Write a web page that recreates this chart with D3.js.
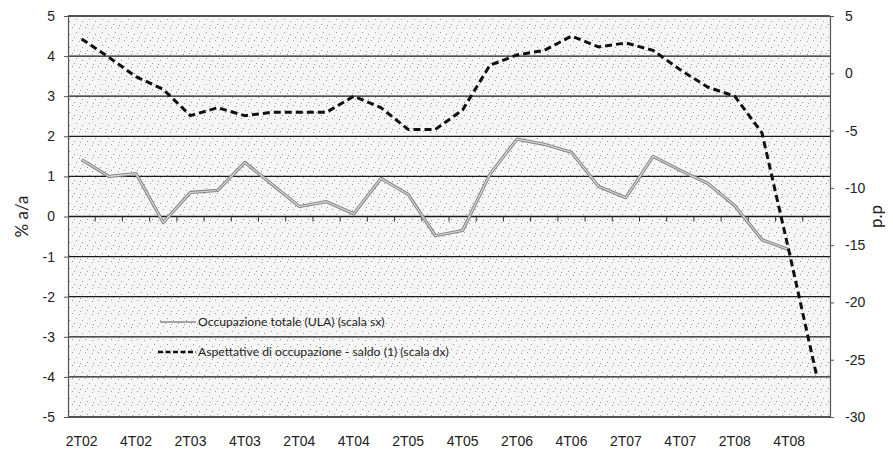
<!DOCTYPE html>
<html>
<head>
<meta charset="utf-8">
<script src="https://cdn.jsdelivr.net/npm/d3@7"></script>
<style>
  body { margin: 0; background: #fff; }
  svg { display: block; font-family: Lato, "Open Sans", sans-serif; }
  .tick text { fill: #222; }
</style>
</head>
<body>
<div id="chart"></div>
<script>
// quarters on the category axis
var quarters = ['2T02','3T02','4T02','1T03','2T03','3T03','4T03','1T04','2T04','3T04','4T04','1T05',
	'2T05','3T05','4T05','1T06','2T06','3T06','4T06','1T07','2T07','3T07','4T07','1T08',
	'2T08','3T08','4T08','1T09']

// only every second quarter gets a label
var quarterLabels = ['2T02','4T02','2T03','4T03','2T04','4T04','2T05','4T05','2T06','4T06','2T07','4T07','2T08','4T08']

// Occupazione totale (ULA), % a/a, left scale
var occupazione = [1.42, 1.0, 1.07, -0.15, 0.6, 0.65, 1.35, 0.8, 0.25, 0.37, 0.07, 0.95,
	0.55, -0.48, -0.35, 1.05, 1.93, 1.8, 1.6, 0.75, 0.47, 1.5, 1.15, 0.83,
	0.27, -0.58, -0.83]

// Aspettative di occupazione - saldo, p.p, right scale
var aspettative = [3.0, 1.4, -0.3, -1.4, -3.7, -3.0, -3.7, -3.4, -3.4, -3.4, -2.0, -3.0,
	-4.9, -4.9, -3.2, 0.7, 1.6, 2.0, 3.25, 2.3, 2.65, 2.0, 0.3, -1.2,
	-2.0, -5.2, -15.6, -26.3]

var leftTicks = [-5,-4,-3,-2,-1,0,1,2,3,4,5]
var rightTicks = [-30,-25,-20,-15,-10,-5,0,5]

var legendLabels = ['Occupazione totale  (ULA) (scala sx)', 'Aspettative di occupazione - saldo (1) (scala dx)']

var width = 893, height = 453
var margin = {'top':16, 'bottom':36, 'left':68, 'right':63}

// excel style numbers, plain hyphen for negatives
var plain = function(d) { return String(d) }

var svg = d3.select('#chart').append('svg')
	.attr('width', width)
	.attr('height', height)

var x = d3.scaleBand()
	.domain(quarters)
	.range([margin.left, width - margin.right])

var yL = d3.scaleLinear()
	.domain([-5, 5])
	.range([height - margin.bottom, margin.top])

var yR = d3.scaleLinear()
	.domain([-30, 5])
	.range([height - margin.bottom, margin.top])

var cx = function(q) { return x(q) + x.bandwidth()/2 }

// stippled plot background, like the scanned original
var defs = svg.append('defs')
var pat = defs.append('pattern')
	.attr('id','stipple')
	.attr('patternUnits','userSpaceOnUse')
	.attr('width', 13).attr('height', 13)
pat.append('rect').attr('width',13).attr('height',13).attr('fill','#f6f6f6')
var dots = [[1,2],[7,1],[11,6],[4,8],[9,11],[2,12]]
pat.selectAll('rect.d').data(dots).enter().append('rect')
	.attr('class','d')
	.attr('x', function(d){ return d[0] })
	.attr('y', function(d){ return d[1] })
	.attr('width',1).attr('height',1)
	.attr('fill','#9a9a9a')

svg.append('rect')
	.attr('x', margin.left)
	.attr('y', margin.top)
	.attr('width', width - margin.left - margin.right)
	.attr('height', height - margin.top - margin.bottom)
	.attr('fill','url(#stipple)')

// horizontal gridlines
svg.append('g').selectAll('line')
	.data(leftTicks)
	.enter().append('line')
	.attr('x1', margin.left)
	.attr('x2', width - margin.right)
	.attr('y1', function(d){ return yL(d) })
	.attr('y2', function(d){ return yL(d) })
	.attr('stroke','#1a1a1a')
	.attr('stroke-width',1.3)

// left axis
var leftAxis = svg.append('g')
	.attr('transform','translate(' + margin.left + ',0)')
	.call(d3.axisLeft(yL).tickValues(leftTicks).tickFormat(plain).tickSize(4).tickPadding(9))
leftAxis.select('.domain').attr('stroke','#555').attr('stroke-width',1.2)
leftAxis.selectAll('.tick line').attr('stroke','#555')
leftAxis.selectAll('text').style('font-size','14px')

// right axis
var rightAxis = svg.append('g')
	.attr('transform','translate(' + (width - margin.right) + ',0)')
	.call(d3.axisRight(yR).tickValues(rightTicks).tickFormat(plain).tickSize(4).tickPadding(11))
rightAxis.select('.domain').attr('stroke','#555').attr('stroke-width',1.2)
rightAxis.selectAll('.tick line').attr('stroke','#555')
rightAxis.selectAll('text').style('font-size','14px')

// category ticks on the zero line, between quarters
svg.append('g').selectAll('line')
	.data(quarters.slice(1))
	.enter().append('line')
	.attr('x1', function(d){ return x(d) })
	.attr('x2', function(d){ return x(d) })
	.attr('y1', yL(0))
	.attr('y2', yL(0) + 5)
	.attr('stroke','#333')
	.attr('stroke-width',1)

// category labels at the bottom
var bottomAxis = svg.append('g')
	.attr('transform','translate(0,' + (height - margin.bottom) + ')')
	.call(d3.axisBottom(x).tickValues(quarterLabels).tickSize(0).tickPadding(19))
bottomAxis.select('.domain').remove()
bottomAxis.selectAll('text').style('font-size','14px')

// axis titles
svg.append('text')
	.attr('transform','translate(28,' + yL(0) + ') rotate(-90)')
	.attr('text-anchor','middle')
	.style('font-size','17px')
	.attr('fill','#222')
	.text('% a/a')

svg.append('text')
	.attr('transform','translate(882,' + yL(0) + ') rotate(-90)')
	.attr('text-anchor','middle')
	.style('font-size','17px')
	.attr('fill','#222')
	.text('p.p')

// series
var lineL = d3.line()
	.x(function(d,i){ return cx(quarters[i]) })
	.y(function(d){ return yL(d) })

var lineR = d3.line()
	.x(function(d,i){ return cx(quarters[i]) })
	.y(function(d){ return yR(d) })

svg.append('path')
	.attr('d', lineL(occupazione))
	.attr('fill','none')
	.attr('stroke','#858585')
	.attr('stroke-width',3.2)
	.attr('stroke-linejoin','round')

svg.append('path')
	.attr('d', lineL(occupazione))
	.attr('fill','none')
	.attr('stroke','#dcdcdc')
	.attr('stroke-width',1.1)
	.attr('stroke-linejoin','round')

svg.append('path')
	.attr('d', lineR(aspettative))
	.attr('fill','none')
	.attr('stroke','#111')
	.attr('stroke-width',3)
	.attr('stroke-dasharray','7,4')
	.attr('stroke-linejoin','round')

// legend
var legend = svg.append('g').attr('transform','translate(158,322)')

legend.append('line')
	.attr('x1',2).attr('x2',38)
	.attr('y1',0).attr('y2',0)
	.attr('stroke','#8a8a8a')
	.attr('stroke-width',1.6)

legend.append('line')
	.attr('x1',0).attr('x2',38)
	.attr('y1',30).attr('y2',30)
	.attr('stroke','#111')
	.attr('stroke-width',2.6)
	.attr('stroke-dasharray','5,2.5')

legend.selectAll('text')
	.data(legendLabels)
	.enter().append('text')
	.attr('x',40)
	.attr('y',function(d,i){ return i*30 + 4 })
	.style('font-size','12.2px')
	.attr('fill','#222')
	.text(function(d){ return d })
</script>
</body>
</html>
